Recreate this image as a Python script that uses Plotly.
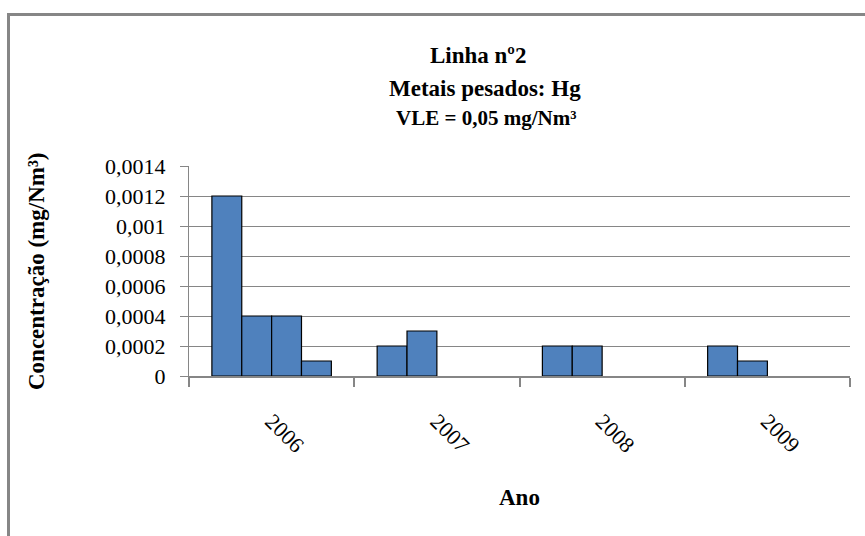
import plotly.graph_objects as go

# ---- data ----
years = ["2006", "2007", "2008", "2009"]
campaign_1 = [0.0012, 0.0002, 0.0002, 0.0002]
campaign_2 = [0.0004, 0.0003, 0.0002, 0.0001]
campaign_3 = [0.0004, None, None, None]
campaign_4 = [0.0001, None, None, None]
series = [campaign_1, campaign_2, campaign_3, campaign_4]
y_tickvals = [0, 0.0002, 0.0004, 0.0006, 0.0008, 0.001, 0.0012, 0.0014]
y_ticktext = ["0", "0,0002", "0,0004", "0,0006", "0,0008", "0,001", "0,0012", "0,0014"]

W, H = 865, 536
L, R, T, B = 189, 15, 166, 160
pw, ph = W - L - R, H - T - B

def px(x):
    return (x - L) / pw

def py(y):
    return (H - B - y) / ph

FONT = "'Liberation Serif', 'Times New Roman', Times, 'DejaVu Serif', serif"
GRAY = "#868686"

fig = go.Figure()
for vals in series:
    fig.add_trace(go.Bar(
        x=years, y=vals,
        marker=dict(color="#4F81BD", line=dict(color="black", width=1.2)),
        showlegend=False,
    ))

def ann(text, x, y, size, angle=0):
    return dict(text=text, x=px(x), y=py(y), xref="paper", yref="paper",
                xanchor="center", yanchor="middle", showarrow=False,
                textangle=angle, font=dict(size=size, family=FONT))

fig.update_layout(
    width=W, height=H,
    margin=dict(l=L, r=R, t=T, b=B, autoexpand=False),
    paper_bgcolor="white", plot_bgcolor="white",
    barmode="group", bargap=0.277, bargroupgap=0,
    font=dict(family=FONT, color="black", size=22),
    xaxis=dict(
        type="category", tickson="boundaries",
        showgrid=False, showline=True, linecolor=GRAY, linewidth=1.5,
        ticks="outside", ticklen=9, tickcolor=GRAY, tickwidth=1.5,
        tickangle=45, tickfont=dict(size=22, family=FONT),
        ticklabelstandoff=22,
    ),
    yaxis=dict(
        range=[0, 0.0014], tickvals=y_tickvals, ticktext=y_ticktext,
        showgrid=True, gridcolor=GRAY, gridwidth=1.3,
        showline=True, linecolor=GRAY, linewidth=1.3,
        ticks="outside", ticklen=8, tickcolor=GRAY,
        tickfont=dict(size=22, family=FONT),
        ticklabelstandoff=10, zeroline=False,
    ),
    annotations=[
        ann("<b>Linha nº2</b>", 478, 55, 23),
        ann("<b>Metais pesados: Hg</b>", 485, 88, 23),
        ann("<b>VLE = 0,05 mg/Nm³</b>", 486, 118, 21),
        ann("<b>Concentração (mg/Nm³)</b>", 36, 272, 23, -90),
        ann("<b>Ano</b>", 519, 497, 23),
    ],
    shapes=[
        dict(type="line", xref="paper", yref="paper", x0=px(8.5), x1=px(8.5),
             y0=py(14.5), y1=py(545), line=dict(color=GRAY, width=3)),
        dict(type="line", xref="paper", yref="paper", x0=px(7), x1=px(870),
             y0=py(14.5), y1=py(14.5), line=dict(color=GRAY, width=3)),
    ],
)

fig.write_html("out.html", config={"displayModeBar": False},
               post_script="document.body.style.margin='0';document.body.style.overflow='hidden';")
